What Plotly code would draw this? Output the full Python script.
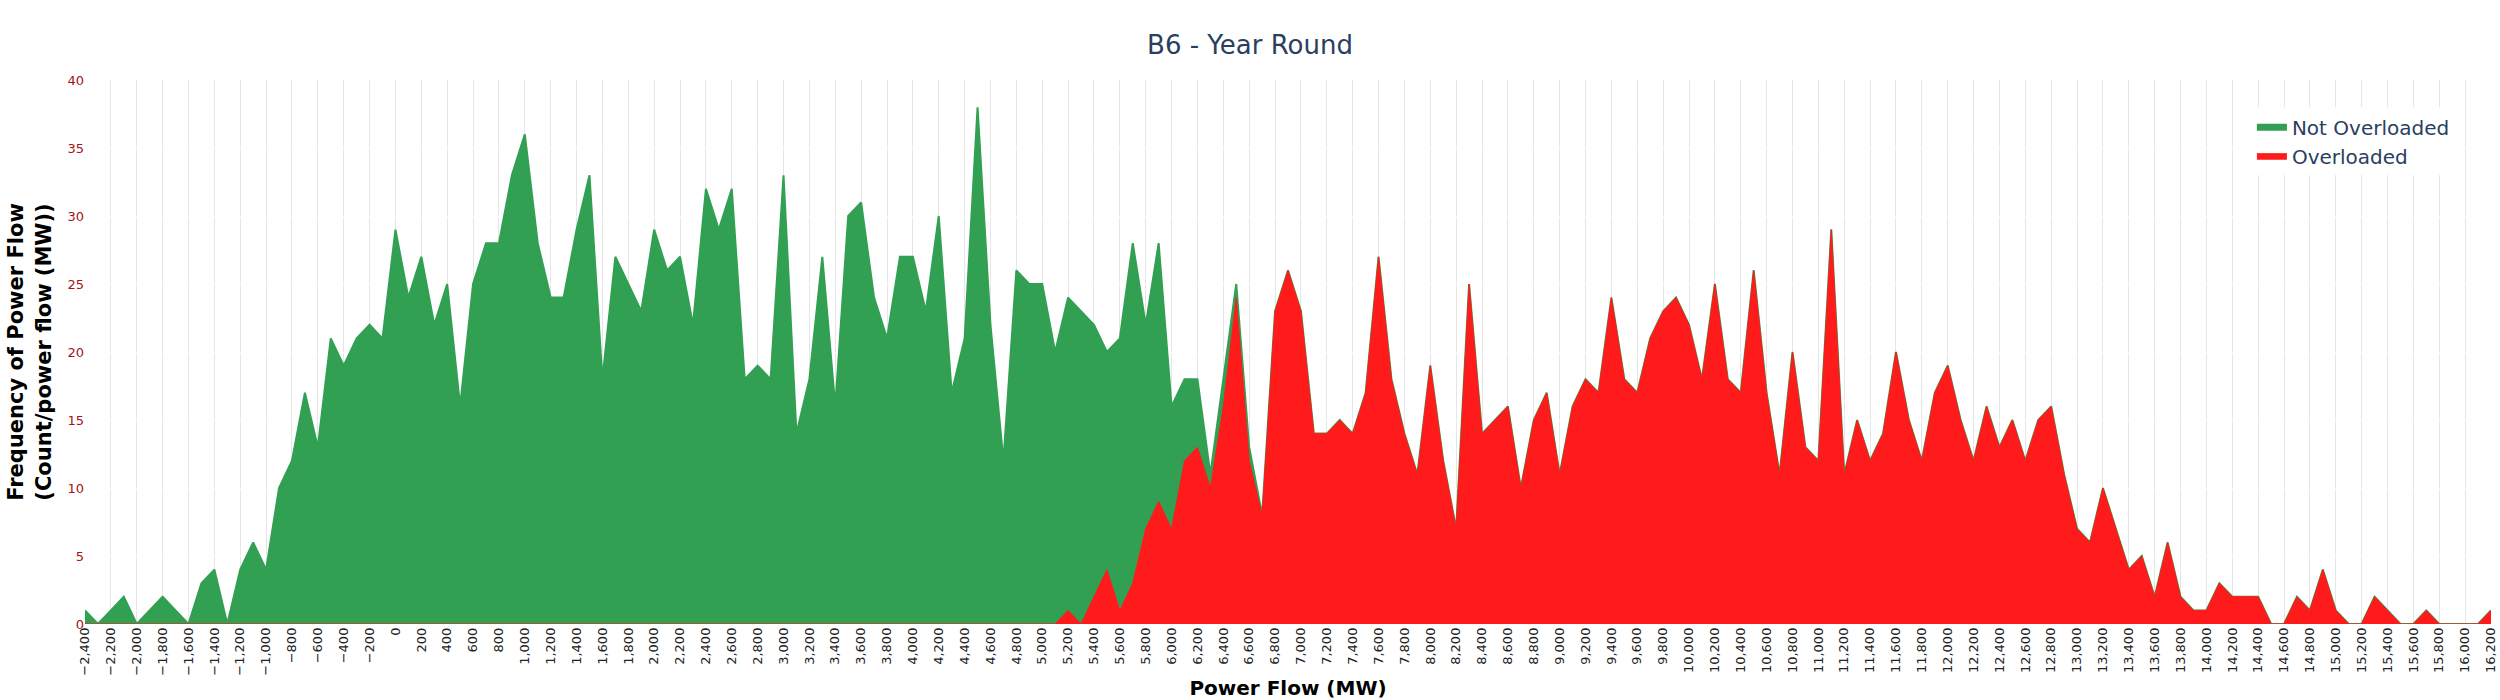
import plotly.graph_objects as go

# Power flow bins (MW)
power_flow = list(range(-2400, 16300, 100))

# Overloaded counts per bin
overloaded = [
    0, 0, 0, 0, 0, 0, 0, 0, 0, 0,          # -2400 .. -1500
    0, 0, 0, 0, 0, 0, 0, 0, 0, 0,          # -1400 .. -500
    0, 0, 0, 0, 0, 0, 0, 0, 0, 0,          # -400 .. 500
    0, 0, 0, 0, 0, 0, 0, 0, 0, 0,          # 600 .. 1500
    0, 0, 0, 0, 0, 0, 0, 0, 0, 0,          # 1600 .. 2500
    0, 0, 0, 0, 0, 0, 0, 0, 0, 0,          # 2600 .. 3500
    0, 0, 0, 0, 0, 0, 0, 0, 0, 0,          # 3600 .. 4500
    0, 0, 0, 0, 0, 0, 1, 0, 2, 4,          # 4600 .. 5500
    1, 3, 7, 9, 7, 12, 13, 10, 16, 24,     # 5600 .. 6500
    12, 8, 23, 26, 23, 14, 14, 15, 14, 17, # 6600 .. 7500
    27, 18, 14, 11, 19, 12, 7, 25, 14, 15, # 7600 .. 8500
    16, 10, 15, 17, 11, 16, 18, 17, 24, 18,# 8600 .. 9500
    17, 21, 23, 24, 22, 18, 25, 18, 17, 26,# 9600 .. 10500
    17, 11, 20, 13, 12, 29, 11, 15, 12, 14,# 10600 .. 11500
    20, 15, 12, 17, 19, 15, 12, 16, 13, 15,# 11600 .. 12500
    12, 15, 16, 11, 7, 6, 10, 7, 4, 5,     # 12600 .. 13500
    2, 6, 2, 1, 1, 3, 2, 2, 2, 0,          # 13600 .. 14500
    0, 2, 1, 4, 1, 0, 0, 2, 1, 0,          # 14600 .. 15500
    0, 1, 0, 0, 0, 0, 1,                   # 15600 .. 16200
]

# Total counts per bin (all hours), the green area
total = [
    1, 0, 1, 2, 0, 1, 2, 1, 0, 3,          # -2400 .. -1500
    4, 0, 4, 6, 4, 10, 12, 17, 13, 21,     # -1400 .. -500
    19, 21, 22, 21, 29, 24, 27, 22, 25, 16,# -400 .. 500
    25, 28, 28, 33, 36, 28, 24, 24, 29, 33,# 600 .. 1500
    18, 27, 25, 23, 29, 26, 27, 22, 32, 29,# 1600 .. 2500
    32, 18, 19, 18, 33, 14, 18, 27, 16, 30,# 2600 .. 3500
    31, 24, 21, 27, 27, 23, 30, 17, 21, 38,# 3600 .. 4500
    22, 12, 26, 25, 25, 20, 24, 23, 22, 20,# 4600 .. 5500
    21, 28, 22, 28, 16, 18, 18, 11, 18, 25,# 5600 .. 6500
    13, 8, 23, 26, 23, 14, 14, 15, 14, 17, # 6600 .. 7500
    27, 18, 14, 11, 19, 12, 7, 25, 14, 15, # 7600 .. 8500
    16, 10, 15, 17, 11, 16, 18, 17, 24, 18,# 8600 .. 9500
    17, 21, 23, 24, 22, 18, 25, 18, 17, 26,# 9600 .. 10500
    17, 11, 20, 13, 12, 29, 11, 15, 12, 14,# 10600 .. 11500
    20, 15, 12, 17, 19, 15, 12, 16, 13, 15,# 11600 .. 12500
    12, 15, 16, 11, 7, 6, 10, 7, 4, 5,     # 12600 .. 13500
    2, 6, 2, 1, 1, 3, 2, 2, 2, 0,          # 13600 .. 14500
    0, 2, 1, 4, 1, 0, 0, 2, 1, 0,          # 14600 .. 15500
    0, 1, 0, 0, 0, 0, 1,                   # 15600 .. 16200
]

GREEN = "rgb(50,160,82)"
RED = "rgb(255,27,27)"
FONT = "Verdana, DejaVu Sans, sans-serif"

fig = go.Figure()
fig.add_trace(go.Scatter(
    x=power_flow, y=total, name="Not Overloaded", mode="lines",
    fill="tozeroy", fillcolor=GREEN, line=dict(color=GREEN, width=2),
))
fig.add_trace(go.Scatter(
    x=power_flow, y=overloaded, name="Overloaded", mode="lines",
    fill="tozeroy", fillcolor=RED, line=dict(color=RED, width=1),
))

fig.update_layout(
    width=2500, height=700,
    template="plotly",
    paper_bgcolor="white", plot_bgcolor="white",
    font=dict(family=FONT, color="#2a3f5f"),
    title=dict(text="B6 - Year Round", x=0.5, xanchor="center",
               y=0.936, yanchor="middle",
               font=dict(size=26, family=FONT, color="#2a3f5f")),
    margin=dict(l=85, r=9, t=80, b=76),
    showlegend=True,
    legend=dict(x=0.985, xanchor="right", y=0.95, yanchor="top",
                bgcolor="white", font=dict(size=20, family=FONT, color="#2a3f5f")),
)
fig.update_xaxes(
    range=[-2400, 16200], dtick=200, tick0=0, tickangle=-90,
    tickformat=",", showgrid=True, gridcolor="#e6e6e6", gridwidth=1,
    zeroline=False, showline=False, automargin=False,
    tickfont=dict(size=13, family=FONT, color="#222222"),
    title=dict(text="<b>Power Flow (MW)</b>", font=dict(size=20, family=FONT, color="black"),
               standoff=6),
)
fig.update_yaxes(
    range=[0, 40], dtick=5, showgrid=True, gridcolor="white", gridwidth=1,
    zeroline=False, showline=False, automargin=False,
    tickfont=dict(size=13, family=FONT, color="#a31515"),
    title=dict(text="<b>Frequency of Power Flow<br>(Count/power flow (MW))</b>",
               font=dict(size=21, family=FONT, color="black"), standoff=10),
)

fig.write_html("out.html")
